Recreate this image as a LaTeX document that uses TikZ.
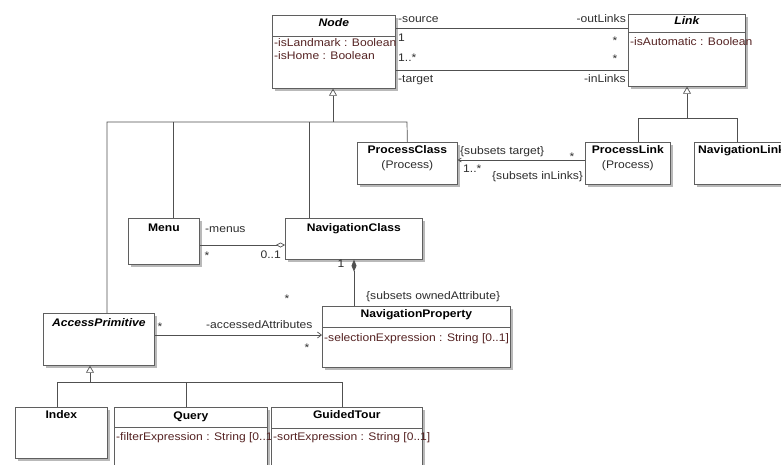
\documentclass[tikz,border=0pt]{standalone}
\usepackage{fontspec}
\setmainfont{Liberation Sans}[FakeStretch=1.1]
\usetikzlibrary{arrows.meta,shadows}
\definecolor{boxline}{RGB}{95,95,95}
\definecolor{wirecol}{RGB}{80,80,80}
\definecolor{shade}{RGB}{185,185,185}
\definecolor{attrtext}{RGB}{85,35,35}
\definecolor{labeltext}{RGB}{45,45,45}
\begin{document}
\begin{tikzpicture}[x=1pt,y=-1pt,
  txt/.style={inner sep=0pt, text height=8pt, text depth=2.5pt, font=\fontsize{11}{13}\selectfont},
  umlclass/.style={draw=boxline, fill=white, line width=0.7pt, inner sep=0pt, anchor=north west,
     general shadow={fill=shade, shadow xshift=3pt, shadow yshift=-3pt}},
  clstitle/.style={txt, font=\fontsize{11}{13}\selectfont\bfseries, text=black},
  abstitle/.style={txt, font=\fontsize{11}{13}\selectfont\bfseries\itshape, text=black},
  stereo/.style={txt, text=labeltext},
  attr/.style={txt, anchor=west, text=attrtext},
  lbl/.style={txt, text=labeltext},
  wire/.style={draw=wirecol, line width=0.7pt},
  divider/.style={draw=boxline, line width=0.6pt},
  gen/.style={wire, -{Triangle[open, length=7pt, width=8pt]}},
  nav/.style={wire, -{Straight Barb[length=4pt, width=6pt]}},
]
\useasboundingbox (0,0) rectangle (781,464);
\clip (0,0) rectangle (781,464);

% ---------- classes ----------
\node[umlclass, minimum width=123pt, minimum height=73pt] (node) at (272,15) {};
\node[abstitle] (node-t) at ([yshift=-9pt]node.north) {Node};
\draw[divider] ([yshift=-21pt]node.north west) -- ([yshift=-21pt]node.north east);
\node[attr] (node-a1) at ([xshift=2pt,yshift=-29pt]node.north west) {-isLandmark : Boolean};
\node[attr] (node-a2) at ([xshift=2pt,yshift=-42pt]node.north west) {-isHome : Boolean};

\node[umlclass, minimum width=117pt, minimum height=72pt] (link) at (628,14) {};
\node[abstitle] (link-t) at ([yshift=-8pt]link.north) {Link};
\draw[divider] ([yshift=-18pt]link.north west) -- ([yshift=-18pt]link.north east);
\node[attr] (link-a1) at ([xshift=2pt,yshift=-29pt]link.north west) {-isAutomatic : Boolean};

\node[umlclass, minimum width=100pt, minimum height=42pt] (pclass) at (357,142) {};
\node[clstitle] (pclass-t) at ([yshift=-9pt]pclass.north) {ProcessClass};
\node[stereo] (pclass-s) at ([yshift=-24pt]pclass.north) {(Process)};

\node[umlclass, minimum width=85pt, minimum height=42pt] (plink) at (585,142) {};
\node[clstitle] (plink-t) at ([yshift=-9pt]plink.north) {ProcessLink};
\node[stereo] (plink-s) at ([yshift=-24pt]plink.north) {(Process)};

\node[umlclass, minimum width=130pt, minimum height=42pt] (nlink) at (694,142) {};
\node[clstitle, anchor=west] (nlink-t) at ([xshift=4pt,yshift=-9pt]nlink.north west) {NavigationLink};

\node[umlclass, minimum width=71pt, minimum height=46pt] (menu) at (128,218) {};
\node[clstitle] (menu-t) at ([yshift=-11pt]menu.north) {Menu};

\node[umlclass, minimum width=137pt, minimum height=41pt] (nclass) at (285,218) {};
\node[clstitle] (nclass-t) at ([yshift=-11pt]nclass.north) {NavigationClass};

\node[umlclass, minimum width=188pt, minimum height=61pt] (nprop) at (322,306) {};
\node[clstitle] (nprop-t) at ([yshift=-9pt]nprop.north) {NavigationProperty};
\draw[divider] ([yshift=-21pt]nprop.north west) -- ([yshift=-21pt]nprop.north east);
\node[attr] (nprop-a1) at ([xshift=2pt,yshift=-33pt]nprop.north west) {-selectionExpression : String [0..1]};

\node[umlclass, minimum width=111pt, minimum height=52pt] (ap) at (43,313) {};
\node[abstitle] (ap-t) at ([yshift=-11pt]ap.north) {AccessPrimitive};

\node[umlclass, minimum width=92pt, minimum height=51pt] (index) at (15,407) {};
\node[clstitle] (index-t) at ([yshift=-9pt]index.north) {Index};

\node[umlclass, minimum width=153pt, minimum height=80pt] (query) at (114,407) {};
\node[clstitle] (query-t) at ([yshift=-10pt]query.north) {Query};
\draw[divider] ([yshift=-20pt]query.north west) -- ([yshift=-20pt]query.north east);
\node[attr] (query-a1) at ([xshift=2pt,yshift=-31pt]query.north west) {-filterExpression : String [0..1]};

\node[umlclass, minimum width=151pt, minimum height=80pt] (gtour) at (271,407) {};
\node[clstitle] (gtour-t) at ([yshift=-9pt]gtour.north) {GuidedTour};
\draw[divider] ([yshift=-21pt]gtour.north west) -- ([yshift=-21pt]gtour.north east);
\node[attr] (gtour-a1) at ([xshift=2pt,yshift=-31pt]gtour.north west) {-sortExpression : String [0..1]};

% ---------- associations Node -- Link ----------
\draw[wire] (node.east |- 0,28) -- (link.west |- 0,28);
\draw[wire] (node.east |- 0,70) -- (link.west |- 0,70);
\node[lbl, anchor=west] (l-source) at (398,20) {-source};
\node[lbl, anchor=west] (l-one) at (398,39) {1};
\node[lbl, anchor=west] (l-onemany) at (398,59) {1..*};
\node[lbl, anchor=west] (l-target) at (398,80) {-target};
\node[lbl, anchor=east] (l-outlinks) at (626,20) {-outLinks};
\node[lbl] (l-star1) at (615,42) {*};
\node[lbl] (l-star2) at (615,60) {*};
\node[lbl, anchor=east] (l-inlinks) at (626,80) {-inLinks};

% ---------- generalizations ----------
\draw[gen] (687,118) -- (link.south -| 687,0);
\draw[wire] (plink.north -| 638,0) -- (638,118) -- (737,118) -- (nlink.north -| 737,0);

\draw[gen] (333,122) -- (node.south -| 333,0);
\draw[wire] (ap.north -| 107,0) -- (107,122) -- (407,122) -- (pclass.north);
\draw[wire] (menu.north -| 173,0) -- (173,122);
\draw[wire] (nclass.north -| 309,0) -- (309,122);

\draw[gen] (90,382) -- (ap.south -| 90,0);
\draw[wire] (index.north -| 57,0) -- (57,382) -- (342,382) -- (gtour.north -| 342,0);
\draw[wire] (query.north -| 186,0) -- (186,382);

% ---------- ProcessLink -> ProcessClass ----------
\draw[wire, -{Straight Barb[length=3pt, width=4pt]}] (plink.west |- 0,160) -- (pclass.east |- 0,160);
\node[lbl, anchor=west] (l-subtarget) at (460,152) {\{subsets target\}};
\node[lbl] (l-star3) at (572,158) {*};
\node[lbl, anchor=west] (l-onemany2) at (463,170) {1..*};
\node[lbl, anchor=west] (l-subinlinks) at (492,177) {\{subsets inLinks\}};

% ---------- Menu -- NavigationClass ----------
\draw[wire, {Diamond[open, length=9pt, width=5pt]}-] (nclass.west |- 0,245) -- (menu.east |- 0,245);
\node[lbl, anchor=west] (l-menus) at (205,230) {-menus};
\node[lbl] (l-star4) at (207,257) {*};
\node[lbl, anchor=east] (l-zeroone) at (281,256) {0..1};

% ---------- NavigationClass <>-- NavigationProperty ----------
\draw[wire, {Diamond[length=12pt, width=5pt]}-] (nclass.south -| 354,0) -- (nprop.north -| 354,0);
\node[lbl] (l-one2) at (341,265) {1};
\node[lbl] (l-star5) at (287,300) {*};
\node[lbl, anchor=west] (l-subowned) at (366,297) {\{subsets ownedAttribute\}};

% ---------- AccessPrimitive -> NavigationProperty ----------
\draw[nav] (ap.east |- 0,335) -- (nprop.west |- 0,335);
\node[lbl] (l-star6) at (160,328) {*};
\node[lbl, anchor=west] (l-accessed) at (206,326) {-accessedAttributes};
\node[lbl] (l-star7) at (307,349) {*};
\end{tikzpicture}
\end{document}
